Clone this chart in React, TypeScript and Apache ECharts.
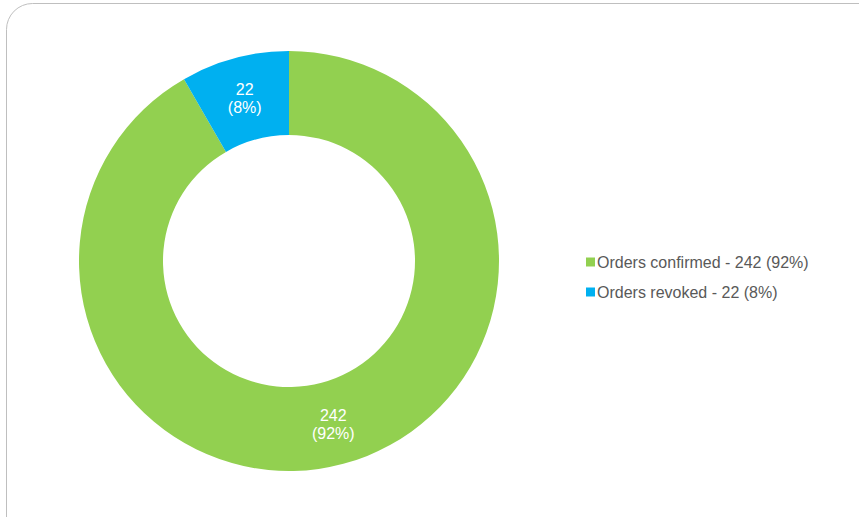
import React, { useEffect, useRef } from "react";
import * as echarts from "echarts";

const categories = ["Orders confirmed", "Orders revoked"];
const values = [242, 22];
const colors = ["#92D050", "#00B0F0"];

const LABEL_OFFSETS: [number, number][] = [
  [0, -2],
  [0, 3],
];

export default function App() {
  const ref = useRef<HTMLDivElement>(null);
  useEffect(() => {
    if (!ref.current) return;
    const chart = echarts.init(ref.current, undefined, { renderer: "svg" });
    const total = values.reduce((a, b) => a + b, 0);
    const pct = (v: number) => Math.round((v / total) * 100);
    const data = categories.map((name, i) => ({
      name,
      value: values[i],
      itemStyle: { color: colors[i] },
      label: { offset: LABEL_OFFSETS[i] },
    }));
    chart.setOption({
      animation: false,
      textStyle: { fontFamily: "Liberation Sans, Arial, sans-serif" },
      graphic: [
        {
          type: "rect",
          shape: { x: 6.5, y: 3.5, width: 880, height: 540, r: 26 },
          style: { fill: "none", stroke: "#BFBFBF", lineWidth: 1 },
          silent: true,
        },
      ],
      legend: {
        orient: "vertical",
        left: 581,
        top: 249,
        icon: "rect",
        itemWidth: 9,
        itemHeight: 9,
        itemGap: 14,
        textStyle: {
          color: "#595959",
          fontSize: 16,
          padding: [0, 0, 0, -3],
          fontFamily: "Liberation Sans, Arial, sans-serif",
        },
        formatter: (name: string) => {
          const i = categories.indexOf(name);
          return `${name} - ${values[i]} (${pct(values[i])}%)`;
        },
      },
      series: [
        {
          type: "pie",
          center: [289, 261],
          radius: [126, 210],
          startAngle: 90,
          clockwise: true,
          data,
          label: {
            show: true,
            position: "inside",
            color: "#FFFFFF",
            fontSize: 16,
            lineHeight: 18,
            fontFamily: "Liberation Sans, Arial, sans-serif",
            formatter: (p: any) => `${p.value}\n(${pct(p.value)}%)`,
          },
          labelLine: { show: false },
          emphasis: { disabled: true },
        },
      ],
    });
    return () => chart.dispose();
  }, []);
  return (
    <div
      ref={ref}
      style={{ position: "fixed", left: 0, top: 0, width: 859, height: 517, background: "#fff" }}
    />
  );
}
